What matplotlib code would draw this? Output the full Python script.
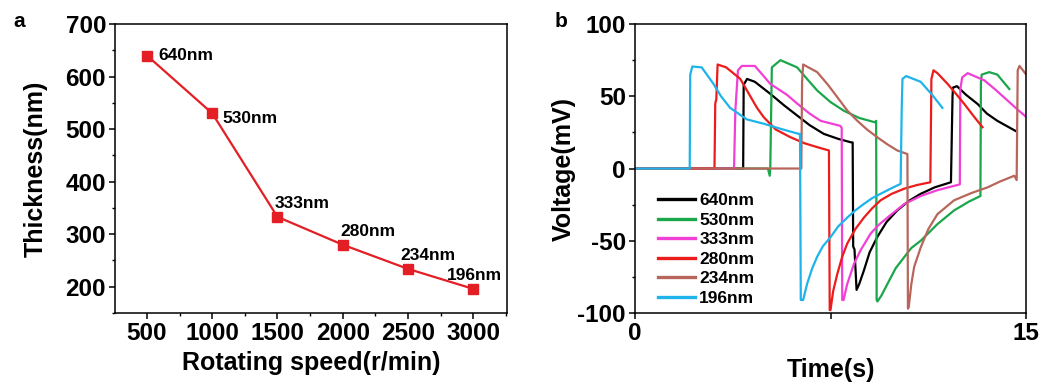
import matplotlib
matplotlib.use("Agg")
import matplotlib.pyplot as plt
from matplotlib.ticker import MultipleLocator

plt.rcParams['font.family'] = ['Liberation Sans', 'DejaVu Sans']
plt.rcParams['font.weight'] = 'bold'
plt.rcParams['axes.unicode_minus'] = False

# panel a data
speed = [500, 1000, 1500, 2000, 2500, 3000]
thickness = [640, 530, 333, 280, 234, 196]
thick_labels = ["640nm", "530nm", "333nm", "280nm", "234nm", "196nm"]
label_dx = [90, 75, -20, -20, -60, -200]
label_dy = [0, -10, 25, 25, 25, 25]

# panel b data: traces (time s, voltage mV)
t_640 = [0, 4.15, 4.17, 4.3, 4.6, 5.19, 5.7, 6.22, 6.7, 7.24, 7.8, 8.27, 8.35, 8.37, 8.42, 8.5, 8.6, 8.78, 9.0, 9.29, 9.65, 10.06, 10.5, 10.96, 11.5, 12.12, 12.18, 12.2, 12.35, 12.7, 13.14, 13.5, 13.9, 14.6]
v_640 = [0, 0, 58, 62, 60, 51.7, 44, 36.7, 30, 24, 20.5, 18.2, 18, -54, -56, -84, -80, -70.6, -58, -47.5, -37, -29, -22.5, -17.5, -13, -9.5, 50, 56, 57, 51, 44.7, 38, 33, 26]

t_530 = [0, 5.1, 5.17, 5.19, 5.25, 5.58, 6.22, 6.6, 6.99, 7.5, 8.01, 8.6, 9.2, 9.25, 9.27, 9.3, 9.45, 9.68, 10.0, 10.32, 10.6, 10.96, 11.6, 12.24, 12.8, 13.25, 13.27, 13.3, 13.59, 13.9, 14.36]
v_530 = [0, 0, -5, 0, 70, 75, 70, 62, 54, 46, 40, 35, 32, 33, -91, -92, -88, -80, -69, -61.5, -55, -50, -38.5, -29, -23, -19, 60, 65, 66.7, 65, 55]

t_333 = [0, 3.8, 3.85, 3.95, 4.1, 4.6, 5.19, 5.83, 6.22, 6.7, 7.12, 7.88, 7.93, 7.95, 8.0, 8.14, 8.4, 8.65, 9.04, 9.35, 9.68, 10.32, 10.96, 11.6, 12.24, 12.46, 12.48, 12.55, 12.76, 13.4, 13.8, 14.17, 14.6, 15.05]
v_333 = [0, 0, 40, 68, 71, 71, 58.6, 51, 45, 38, 33, 29.5, 28, -91, -91, -80, -66, -56.7, -45, -39, -34, -24.7, -19, -15, -12, -11, 55, 63, 66, 61, 55, 49, 42, 35]

t_280 = [0, 3.05, 3.08, 3.12, 3.17, 3.5, 4.04, 4.68, 4.94, 5.4, 5.96, 6.5, 6.99, 7.44, 7.47, 7.5, 7.6, 7.76, 7.95, 8.14, 8.45, 8.78, 9.1, 9.42, 9.85, 10.32, 10.8, 11.33, 11.37, 11.45, 11.6, 11.99, 12.3, 12.63, 13.0, 13.33]
v_280 = [0, 0, 45, 48, 72, 70, 62, 42, 35.5, 27, 21.7, 17.5, 14.8, 12.5, -98, -98, -85, -73, -61, -52, -42, -34, -27.5, -22, -17.5, -14, -11.5, -9.5, 62, 68, 66, 58.6, 52, 44.7, 36, 28.6]

t_234 = [0, 6.38, 6.41, 6.45, 6.99, 7.4, 7.76, 8.15, 8.53, 8.9, 9.29, 9.7, 10.06, 10.45, 10.47, 10.5, 10.6, 10.71, 10.96, 11.25, 11.6, 12.24, 12.9, 13.53, 14.0, 14.55, 14.64, 14.68, 14.75, 15.05]
v_234 = [0, 0, 60, 72, 66.7, 58, 49.4, 40, 33, 27, 21.7, 16.5, 12.5, 10, -97, -96, -80, -68, -54.6, -42, -31.6, -22, -17, -13, -9, -5, -8, 68, 71, 64]

t_196 = [0, 2.1, 2.12, 2.2, 2.56, 3.01, 3.3, 3.65, 4.29, 4.94, 5.58, 6.28, 6.33, 6.36, 6.45, 6.6, 6.8, 6.99, 7.2, 7.5, 7.8, 8.14, 8.45, 8.78, 9.1, 9.42, 9.8, 10.19, 10.23, 10.26, 10.4, 10.96, 11.4, 11.79]
v_196 = [0, 0, 65, 70.6, 70, 58.6, 50, 42, 34, 31, 27.5, 24, 24, -91, -91, -80, -69, -61, -54, -47.5, -40, -34, -29, -24.5, -20.5, -17.5, -14, -10.6, 40, 62, 64, 60, 51, 42]

trace_names = ["640nm", "530nm", "333nm", "280nm", "234nm", "196nm"]
trace_t = [t_640, t_530, t_333, t_280, t_234, t_196]
trace_v = [v_640, v_530, v_333, v_280, v_234, v_196]
trace_colors = ["black", "#1aa64a", "#f23fd6", "#ec1c1c", "#b8665c", "#1eb4ea"]

fig = plt.figure(figsize=(10.44, 3.92), dpi=100)
ax1 = fig.add_axes([0.1102, 0.2015, 0.3755, 0.7372])
ax2 = fig.add_axes([0.6082, 0.2015, 0.3746, 0.7372])

# panel a
ax1.plot(speed, thickness, color="#e31e24", lw=1.6, marker="s", ms=6.5)
for x, y, s, dx, dy in zip(speed, thickness, thick_labels, label_dx, label_dy):
    ax1.text(x + dx, y + dy, s, fontsize=12.5, fontweight="bold", va="center")
ax1.set_xlim(255, 3260)
ax1.set_ylim(150, 700)
ax1.set_xticks(speed)
ax1.xaxis.set_minor_locator(MultipleLocator(250))
ax1.yaxis.set_minor_locator(MultipleLocator(50))
ax1.set_yticks([200, 300, 400, 500, 600, 700])
ax1.set_xlabel("Rotating speed(r/min)", fontsize=18, fontweight="bold", labelpad=4)
ax1.set_ylabel("Thickness(nm)", fontsize=18, fontweight="bold", labelpad=13)

# panel b
for t, v, c, name in zip(trace_t, trace_v, trace_colors, trace_names):
    ax2.plot(t, v, color=c, lw=1.6, label=name)
ax2.set_xlim(0, 15)
ax2.set_ylim(-100, 100)
ax2.set_xticks([0, 7.5, 15])
ax2.set_xticklabels(["0", "", "15"])
ax2.yaxis.set_major_locator(MultipleLocator(50))
ax2.yaxis.set_minor_locator(MultipleLocator(25))
ax2.set_xlabel("Time(s)", fontsize=18, fontweight="bold", labelpad=9)
ax2.set_ylabel("Voltage(mV)", fontsize=18, fontweight="bold", labelpad=1)
leg = ax2.legend(loc="upper left", bbox_to_anchor=(0.06, 0.415), frameon=False,
                 fontsize=12.5, handlelength=2.1, handletextpad=0.25,
                 labelspacing=0.25, borderpad=0, borderaxespad=0)
for line in leg.get_lines():
    line.set_linewidth(2.4)

for ax in (ax1, ax2):
    for sp in ax.spines.values():
        sp.set_linewidth(1.1)
    ax.tick_params(which="major", direction="out", length=4, width=1.1, labelsize=17.5, pad=2.5)
    ax.tick_params(which="minor", direction="out", length=2.5, width=1.0)
    ax.tick_params(top=False, right=False, which="both")

fig.text(0.013, 0.93, "a", fontsize=15, fontweight="bold")
fig.text(0.531, 0.93, "b", fontsize=15, fontweight="bold")

fig.savefig("out.png", dpi=100)
